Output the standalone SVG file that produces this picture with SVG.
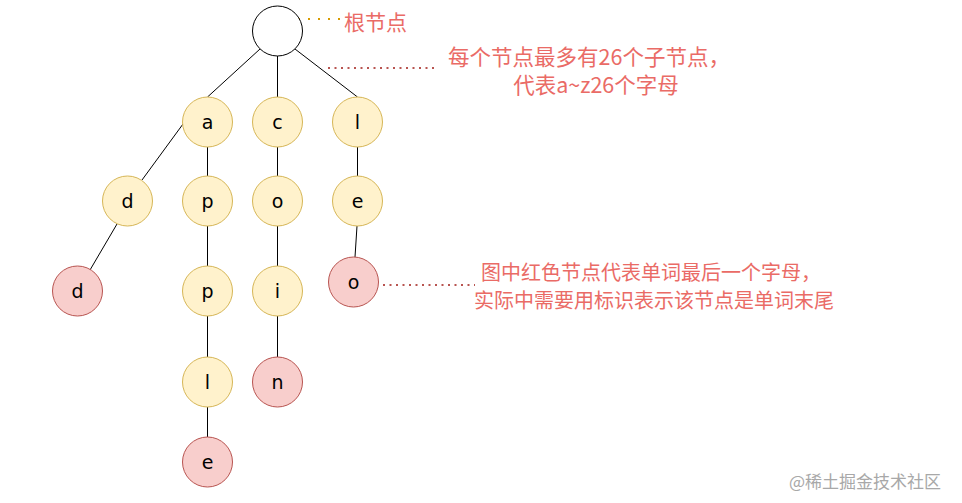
<svg xmlns="http://www.w3.org/2000/svg" width="962" height="503" viewBox="0 0 962 503">
<style>
.y{fill:#fff2cc;stroke:#d6b656;stroke-width:1}
.r{fill:#f8cecc;stroke:#b85450;stroke-width:1}
.w{fill:#ffffff;stroke:#000000;stroke-width:1}
.t{font-family:"DejaVu Sans","Noto Sans",sans-serif;font-size:19px;fill:#000;text-anchor:middle;dominant-baseline:central}
.n{font-family:"Noto Sans CJK SC","Noto Sans",sans-serif;font-size:20px;fill:#ea6b66;text-anchor:middle;dominant-baseline:central}
.n2{font-size:21.5px}
.e{stroke:#000;stroke-width:1;fill:none}
.d1{stroke:#d79b00;stroke-width:2;stroke-dasharray:2 8;fill:none}
.d2{stroke:#b85450;stroke-width:2;stroke-dasharray:2 4.5;fill:none}
</style>
<rect width="962" height="503" fill="#ffffff"/>
<g id="connectors">
<line class="e" x1="260" y1="49" x2="207.5" y2="97"/>
<line class="e" x1="277.5" y1="56" x2="277.5" y2="97"/>
<line class="e" x1="295" y1="49" x2="357.5" y2="97"/>
<line class="e" x1="183" y1="124" x2="142" y2="180"/>
<line class="e" x1="207.5" y1="147" x2="207.5" y2="176"/>
<line class="e" x1="207.5" y1="226" x2="207.5" y2="266"/>
<line class="e" x1="207.5" y1="316" x2="207.5" y2="357"/>
<line class="e" x1="207.5" y1="407" x2="207.5" y2="437"/>
<line class="e" x1="277.5" y1="147" x2="277.5" y2="176"/>
<line class="e" x1="277.5" y1="226" x2="277.5" y2="266"/>
<line class="e" x1="277.5" y1="316" x2="277.5" y2="357"/>
<line class="e" x1="357.5" y1="147" x2="357.5" y2="176"/>
<line class="e" x1="357" y1="226" x2="355" y2="257"/>
<line class="e" x1="117" y1="224" x2="90" y2="270"/>
<line class="d1" x1="298" y1="19" x2="340" y2="19"/>
<line class="d2" x1="328" y1="68" x2="436" y2="68"/>
<line class="d2" x1="383" y1="285" x2="475" y2="285"/>
</g>
<g id="root"><circle class="w" cx="277.5" cy="31" r="25"/></g>
<g id="a"><circle class="y" cx="207.5" cy="122" r="25"/><text class="t" x="207.5" y="122">a</text></g>
<g id="c"><circle class="y" cx="277.5" cy="122" r="25"/><text class="t" x="277.5" y="122">c</text></g>
<g id="l1"><circle class="y" cx="357.5" cy="122" r="25"/><text class="t" x="357.5" y="122">l</text></g>
<g id="d1"><circle class="y" cx="127.5" cy="201" r="25"/><text class="t" x="127.5" y="201">d</text></g>
<g id="p1"><circle class="y" cx="207.5" cy="201" r="25"/><text class="t" x="207.5" y="201">p</text></g>
<g id="o1"><circle class="y" cx="277.5" cy="201" r="25"/><text class="t" x="277.5" y="201">o</text></g>
<g id="e1"><circle class="y" cx="357.5" cy="201" r="25"/><text class="t" x="357.5" y="201">e</text></g>
<g id="d2"><circle class="r" cx="77.5" cy="291" r="25"/><text class="t" x="77.5" y="291">d</text></g>
<g id="p2"><circle class="y" cx="207.5" cy="291" r="25"/><text class="t" x="207.5" y="291">p</text></g>
<g id="i"><circle class="y" cx="277.5" cy="291" r="25"/><text class="t" x="277.5" y="291">i</text></g>
<g id="o2"><circle class="r" cx="353.5" cy="282" r="25"/><text class="t" x="353.5" y="282">o</text></g>
<g id="l2"><circle class="y" cx="207.5" cy="382" r="25"/><text class="t" x="207.5" y="382">l</text></g>
<g id="n"><circle class="r" cx="277.5" cy="382" r="25"/><text class="t" x="277.5" y="382">n</text></g>
<g id="e2"><circle class="r" cx="207.5" cy="462" r="25"/><text class="t" x="207.5" y="462">e</text></g>
<g id="label-root"><text class="n" x="375.5" y="21" style="font-size:21px">根节点</text></g>
<g id="label-children"><text class="n n2" x="589" y="55">每个节点最多有26个子节点，</text><text class="n n2" x="596" y="83">代表a~z26个字母</text></g>
<g id="label-end"><text class="n" x="651" y="271">图中红色节点代表单词最后一个字母，</text><text class="n" x="654" y="299">实际中需要用标识表示该节点是单词末尾</text></g>
<text x="865" y="480" style="font-family:'Noto Sans CJK SC',sans-serif;font-size:17px;fill:#a8a8a8;text-anchor:middle;dominant-baseline:central">@稀土掘金技术社区</text>
</svg>
